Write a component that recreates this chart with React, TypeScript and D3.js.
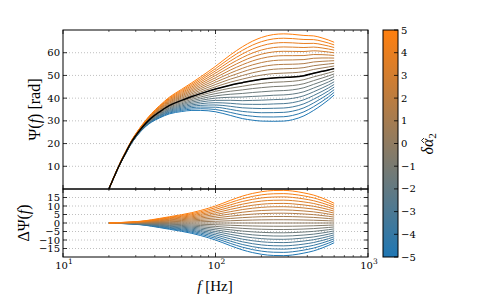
import React from "react";
import * as d3 from "d3";

// frequency grid [Hz] and the reference phase curve (delta alpha = 0)
const freqs = [20, 22, 24, 26, 28, 30, 32, 35, 38, 43, 50, 60, 70, 80, 100, 125, 150, 175, 200, 240, 280, 320, 380, 440, 500, 550, 600];
const psiBase = [0, 6.5, 12, 16.5, 20.5, 23.5, 26, 29, 31.3, 34, 36.8, 39, 40.7, 42, 44, 45.7, 46.8, 47.7, 48.3, 48.9, 49.1, 49.3, 49.9, 51, 51.8, 52.4, 53];
// phase shift of the delta alpha = +5 curve
const dPsiAt5 = [0, 0.15, 0.3, 0.45, 0.6, 0.8, 1.0, 1.4, 1.9, 2.7, 3.7, 4.9, 6.1, 7.4, 10, 13.3, 15.8, 17.4, 18.4, 19.1, 19.2, 18.8, 17.7, 16.4, 14.7, 13.2, 11.6];
const deltaAlpha = [-5, -4.5, -4, -3.5, -3, -2.5, -2, -1.5, -1, -0.5, 0, 0.5, 1, 1.5, 2, 2.5, 3, 3.5, 4, 4.5, 5];

const psiTicks = [10, 20, 30, 40, 50, 60];
const dPsiTicks = [-15, -10, -5, 0, 5, 10, 15];
const cbarTicks = [-5, -4, -3, -2, -1, 0, 1, 2, 3, 4, 5];
const decades = [10, 100, 1000];
const decadeLabels = ["1", "2", "3"];

const W = 491;
const H = 303;
const left = 63;
const right = 368;
const top1 = 30;
const bot1 = 189;
const top2 = 189;
const bot2 = 257;
const cbX = 383;
const cbW = 15;

const tickFont = "DejaVu Serif";
const labelFont = "Liberation Serif";
const minus = (v: number) => (v < 0 ? "\u2212" + Math.abs(v) : String(v));

const App: React.FC = () => {
  const x = d3.scaleLog().domain([10, 1000]).range([left, right]);
  const yTop = d3.scaleLinear().domain([0, 70]).range([bot1, top1]);
  const yBot = d3.scaleLinear().domain([-20, 20]).range([bot2, top2]);
  const yCb = d3.scaleLinear().domain([-5, 5]).range([bot2, top1]);
  const color = d3.interpolateRgb("#1f77b4", "#ff7f0e");
  const colorOf = (a: number) => color((a + 5) / 10);

  const idx = freqs.map((_, i) => i);
  const lineTop = (a: number) =>
    d3.line<number>()
      .x((i) => x(freqs[i]))
      .y((i) => yTop(psiBase[i] + (a / 5) * dPsiAt5[i]))
      .curve(d3.curveMonotoneX)(idx) || "";
  const lineBot = (a: number) =>
    d3.line<number>()
      .x((i) => x(freqs[i]))
      .y((i) => yBot((a / 5) * dPsiAt5[i]))
      .curve(d3.curveMonotoneX)(idx) || "";

  const minors: number[] = [];
  [10, 100].forEach((k) => {
    for (let m = 2; m <= 9; m++) minors.push(m * k);
  });

  const panelFrame = (y0: number, y1: number, yScale: d3.ScaleLinear<number, number>, ticks: number[], key: string) => (
    <g key={key}>
      {ticks.map((t) => (
        <line key={"g" + t} x1={left} x2={right} y1={yScale(t)} y2={yScale(t)} stroke="#b0b0b0" strokeWidth={0.8} strokeDasharray="1,2" />
      ))}
      {decades.slice(1, 2).map((d) => (
        <line key={"v" + d} x1={x(d)} x2={x(d)} y1={y0} y2={y1} stroke="#b0b0b0" strokeWidth={0.8} strokeDasharray="1,2" />
      ))}
      {/* x ticks, inward on top and bottom */}
      {decades.map((d) => (
        <g key={"mx" + d}>
          <line x1={x(d)} x2={x(d)} y1={y1} y2={y1 - 4} stroke="#000" strokeWidth={0.8} />
          <line x1={x(d)} x2={x(d)} y1={y0} y2={y0 + 4} stroke="#000" strokeWidth={0.8} />
        </g>
      ))}
      {minors.map((d) => (
        <g key={"mn" + d}>
          <line x1={x(d)} x2={x(d)} y1={y1} y2={y1 - 2} stroke="#000" strokeWidth={0.6} />
          <line x1={x(d)} x2={x(d)} y1={y0} y2={y0 + 2} stroke="#000" strokeWidth={0.6} />
        </g>
      ))}
      {/* y ticks inward on both sides, plus labels */}
      {ticks.map((t) => (
        <g key={"t" + t}>
          <line x1={left} x2={left + 4} y1={yScale(t)} y2={yScale(t)} stroke="#000" strokeWidth={0.8} />
          <line x1={right} x2={right - 4} y1={yScale(t)} y2={yScale(t)} stroke="#000" strokeWidth={0.8} />
          <text x={left - 3} y={yScale(t)} dy="0.35em" textAnchor="end" fontFamily={tickFont} fontSize={10} fill="#000">
            {minus(t)}
          </text>
        </g>
      ))}
    </g>
  );

  return (
    <svg width={W} height={H} style={{ position: "absolute", left: 0, top: 0, background: "#fff" }}>
      <defs>
        <linearGradient id="cbGrad" x1="0" y1="1" x2="0" y2="0">
          <stop offset="0" stopColor={color(0)} />
          <stop offset="0.5" stopColor={color(0.5)} />
          <stop offset="1" stopColor={color(1)} />
        </linearGradient>
      </defs>

      {panelFrame(top1, bot1, yTop, psiTicks, "top")}
      {panelFrame(top2, bot2, yBot, dPsiTicks, "bot")}

      {/* curves */}
      {deltaAlpha.map((a) => (
        <path key={"t" + a} d={lineTop(a)} fill="none" stroke={colorOf(a)} strokeWidth={1} />
      ))}
      <path d={lineTop(0)} fill="none" stroke="#000" strokeWidth={1.5} />
      {deltaAlpha.map((a) => (
        <path key={"b" + a} d={lineBot(a)} fill="none" stroke={colorOf(a)} strokeWidth={1} />
      ))}

      {/* frames */}
      <rect x={left} y={top1} width={right - left} height={bot1 - top1} fill="none" stroke="#000" strokeWidth={1} />
      <rect x={left} y={top2} width={right - left} height={bot2 - top2} fill="none" stroke="#000" strokeWidth={1} />

      {/* x tick labels */}
      {decades.map((d, i) => (
        <text key={"xl" + d} x={x(d) + 1} y={269} textAnchor="middle" fontFamily={tickFont} fontSize={10} fill="#000">
          10
          <tspan dy={-5} fontSize={7.5}>{decadeLabels[i]}</tspan>
        </text>
      ))}

      {/* axis labels */}
      <text x={215} y={291} textAnchor="middle" fontFamily={labelFont} fontSize={15} fill="#000">
        <tspan fontStyle="italic">f</tspan> [Hz]
      </text>
      <text transform={`translate(40,${(top1 + bot1) / 2}) rotate(-90)`} textAnchor="middle" fontFamily={labelFont} fontSize={16} fill="#000">
        Ψ(<tspan fontStyle="italic">f</tspan>) [rad]
      </text>
      <text transform={`translate(29,${(top2 + bot2) / 2}) rotate(-90)`} textAnchor="middle" fontFamily={labelFont} fontSize={16} fill="#000">
        ΔΨ(<tspan fontStyle="italic">f</tspan>)
      </text>

      {/* colorbar */}
      <rect x={cbX} y={top1} width={cbW} height={bot2 - top1} fill="url(#cbGrad)" stroke="#000" strokeWidth={1} />
      {cbarTicks.map((t) => (
        <g key={"cb" + t}>
          <line x1={cbX + cbW} x2={cbX + cbW - 4} y1={yCb(t)} y2={yCb(t)} stroke="#000" strokeWidth={0.8} />
          <text x={cbX + cbW + 3} y={yCb(t)} dy="0.35em" fontFamily={tickFont} fontSize={10} fill="#000">
            {minus(t)}
          </text>
        </g>
      ))}
      <g transform={`translate(433,${(top1 + bot2) / 2}) rotate(-90)`}>
        <text x={-11} y={0} fontFamily={labelFont} fontSize={16} fill="#000">
          <tspan fontStyle="italic">δα</tspan>
          <tspan fontSize={11} dy={3}>2</tspan>
        </text>
        <path d="M 0.5,-9 L 3,-11.5 L 5.5,-9" fill="none" stroke="#000" strokeWidth={0.8} />
      </g>
    </svg>
  );
};

export default App;
